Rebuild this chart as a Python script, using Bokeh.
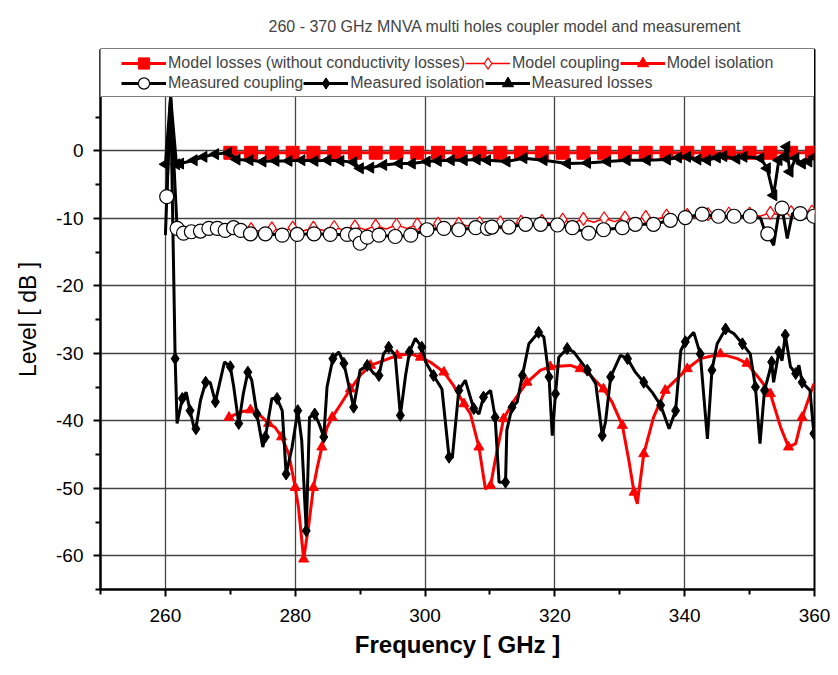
import math
from bokeh.plotting import figure
from bokeh.models import Range1d, Legend, LegendItem, FixedTicker, CustomJSTickFormatter
from bokeh.embed import file_html
from bokeh.resources import INLINE

# ---------------- data ----------------
model_freq = [270.0, 271.6, 273.2, 274.8, 276.4, 278.0, 279.6, 281.2, 282.8, 284.4,
              286.0, 287.6, 289.2, 290.8, 292.4, 294.0, 295.6, 297.2, 298.8, 300.4,
              302.0, 303.6, 305.2, 306.8, 308.4, 310.0, 311.6, 313.2, 314.8, 316.4,
              318.0, 319.6, 321.2, 322.8, 324.4, 326.0, 327.6, 329.2, 330.8, 332.4,
              334.0, 335.6, 337.2, 338.8, 340.4, 342.0, 343.6, 345.2, 346.8, 348.4,
              350.0, 351.6, 353.2, 354.8, 356.4, 358.0, 359.6]
model_losses = [-0.3, -0.3, -0.3, -0.3, -0.3, -0.3, -0.3, -0.3, -0.3, -0.3,
                -0.3, -0.3, -0.3, -0.3, -0.3, -0.3, -0.3, -0.3, -0.3, -0.3,
                -0.3, -0.3, -0.3, -0.3, -0.3, -0.3, -0.3, -0.3, -0.3, -0.3,
                -0.3, -0.3, -0.3, -0.3, -0.3, -0.3, -0.3, -0.3, -0.3, -0.3,
                -0.3, -0.3, -0.3, -0.3, -0.3, -0.3, -0.3, -0.3, -0.3, -0.3,
                -0.3, -0.3, -0.3, -0.3, -0.3, -0.3, -0.3]
model_coupling = [-11.6, -12.0, -11.6, -12.0, -11.5, -11.9, -11.4, -11.9, -11.4, -11.8,
                  -11.3, -11.8, -11.2, -11.7, -11.1, -11.6, -11.0, -11.5, -10.9, -11.4,
                  -10.8, -11.3, -10.8, -11.2, -10.7, -11.1, -10.6, -11.0, -10.5, -10.9,
                  -10.4, -10.8, -10.2, -10.7, -10.1, -10.6, -10.0, -10.5, -9.9, -10.3,
                  -9.8, -10.2, -9.6, -10.1, -9.5, -10.0, -9.4, -9.9, -9.3, -9.8,
                  -9.3, -9.7, -9.2, -9.6, -9.1, -9.5, -9.0]

model_iso_freq = [269.8, 271.6, 273.1, 274.6, 275.9, 276.9, 277.9, 279.0, 280.0, 280.5,
                  281.3, 282.1, 282.8, 283.4, 284.1, 284.9, 285.7, 286.9, 288.5, 290.0,
                  291.6, 293.6, 295.7, 297.8, 299.3, 300.8, 302.9, 304.4, 306.0, 307.0,
                  308.3, 309.3, 310.1, 310.8, 312.1, 313.7, 315.7, 317.8, 319.3, 322.4,
                  323.9, 325.5, 327.5, 328.8, 330.4, 331.4, 332.2, 332.7, 333.7, 335.2,
                  337.0, 338.8, 340.4, 342.4, 345.5, 348.1, 349.6, 351.7, 353.2, 354.8,
                  356.0, 357.1, 358.1, 359.9]
model_iso = [-39.5, -38.7, -38.4, -39.2, -40.4, -41.0, -42.4, -44.9, -49.9, -52.8,
             -60.5, -55.3, -49.9, -46.9, -43.9, -41.0, -39.5, -37.7, -35.3, -33.3,
             -31.8, -31.1, -30.3, -30.1, -30.6, -31.3, -32.8, -34.8, -37.5, -39.0,
             -43.9, -50.1, -49.6, -45.9, -39.7, -37.0, -34.3, -32.5, -32.0, -31.8,
             -32.3, -33.3, -35.3, -37.2, -40.7, -45.9, -50.6, -52.3, -44.9, -39.5,
             -35.5, -33.8, -32.3, -30.8, -30.1, -30.8, -31.5, -34.0, -36.0, -41.0,
             -43.9, -43.4, -39.5, -34.5]

meas_coup_freq = [260.2, 260.8, 261.8, 262.8, 264.0, 265.4, 266.7, 268.0, 269.2, 270.5,
                  271.6, 273.1, 275.4, 278.0, 280.3, 282.9, 285.4, 288.0, 289.3, 290.0,
                  291.1, 292.9, 295.4, 297.8, 300.3, 302.9, 305.2, 307.8, 309.6, 310.3,
                  312.9, 315.5, 317.8, 320.4, 322.7, 325.2, 327.5, 330.4, 332.4, 335.2,
                  337.8, 340.1, 342.7, 345.2, 347.6, 350.1, 351.7, 352.2, 352.8, 353.7,
                  354.4, 355.0, 355.8, 356.6, 357.8, 359.9]
meas_coupling = [-6.8, 8.0, -11.5, -12.2, -12.0, -11.9, -11.5, -11.5, -11.8, -11.4,
                 -11.8, -12.3, -12.3, -12.5, -12.4, -12.3, -12.4, -12.4, -12.5, -13.7,
                 -12.8, -12.5, -12.7, -12.5, -11.7, -11.5, -11.7, -11.4, -11.5, -11.3,
                 -11.3, -10.9, -10.9, -11.0, -11.4, -12.2, -11.7, -11.4, -10.9, -10.9,
                 -10.3, -9.9, -9.4, -9.7, -9.7, -9.7, -10.0, -11.5, -12.3, -14.0,
                 -9.8, -8.5, -13.0, -9.3, -9.3, -9.7]

meas_iso_freq = [260.0, 260.8, 261.5, 261.8, 262.6, 263.2, 263.8, 264.4, 264.7, 265.4,
                 266.2, 266.9, 267.7, 269.1, 270.0, 270.5, 271.3, 272.0, 272.7, 273.3,
                 274.1, 275.0, 275.4, 276.4, 277.2, 278.0, 278.6, 279.5, 280.4, 281.0,
                 281.7, 282.2, 283.0, 283.7, 284.4, 284.9, 285.8, 286.7, 287.5, 288.3,
                 289.0, 290.0, 291.1, 292.1, 292.9, 293.6, 294.4, 295.4, 296.2, 297.0,
                 297.6, 298.5, 299.5, 300.1, 301.3, 302.6, 303.7, 304.2, 305.2, 306.2,
                 307.5, 308.3, 309.0, 310.1, 310.8, 311.4, 312.4, 312.6, 313.4, 314.2,
                 315.0, 316.0, 317.5, 318.3, 319.1, 319.6, 320.1, 320.6, 321.9, 322.9,
                 325.0, 326.3, 327.3, 327.8, 328.6, 330.1, 331.2, 332.4, 333.7, 335.0,
                 336.3, 337.6, 338.6, 339.4, 340.1, 341.4, 342.4, 343.5, 344.2, 345.0,
                 346.3, 347.6, 348.9, 350.1, 350.9, 351.6, 352.3, 353.0, 353.4, 353.7,
                 354.5, 355.0, 355.5, 356.3, 357.1, 357.6, 358.1, 359.3, 359.9]
meas_iso = [-12.5, 8.0, -30.8, -40.4, -36.7, -35.8, -38.5, -41.0, -41.2, -37.0,
            -34.3, -34.3, -37.2, -31.3, -32.0, -34.8, -40.4, -36.0, -32.8, -34.0,
            -39.0, -43.9, -42.4, -36.7, -36.7, -38.5, -47.9, -44.0, -38.5, -42.9,
            -56.3, -39.5, -39.0, -40.5, -42.4, -35.0, -30.8, -29.8, -31.5, -35.0,
            -38.0, -32.5, -31.8, -33.0, -33.3, -30.1, -29.1, -30.3, -39.2, -33.3,
            -29.8, -27.8, -29.1, -31.3, -33.3, -35.3, -45.4, -45.5, -35.5, -34.0,
            -38.2, -39.0, -36.5, -35.5, -39.5, -49.1, -49.1, -41.4, -38.0, -37.2,
            -33.3, -28.6, -26.9, -27.6, -33.5, -42.2, -36.0, -30.6, -29.3, -29.8,
            -32.5, -34.5, -42.2, -40.2, -33.5, -30.3, -30.8, -32.8, -34.3, -35.8,
            -37.7, -41.2, -38.5, -29.6, -28.3, -26.9, -30.1, -42.7, -32.5, -28.6,
            -26.4, -27.1, -28.6, -30.1, -35.0, -43.4, -35.5, -33.0, -31.3, -34.3,
            -29.8, -31.1, -27.3, -32.0, -33.0, -31.8, -34.3, -35.5, -41.9]

meas_loss_freq = [260.0, 260.8, 261.7, 262.3, 264.4, 265.9, 267.7, 269.7, 271.0, 273.0,
                  275.0, 277.0, 279.0, 281.0, 283.0, 285.0, 287.0, 289.0, 290.0, 291.6,
                  293.6, 296.0, 298.0, 300.3, 302.0, 304.0, 306.0, 308.0, 309.6, 312.6,
                  315.2, 318.3, 321.9, 325.0, 328.1, 331.1, 334.2, 337.3, 339.0, 340.4,
                  342.0, 343.5, 345.0, 346.0, 348.0, 349.1, 351.7, 352.7, 353.7, 354.5,
                  355.3, 355.7, 356.2, 357.1, 358.1, 359.1, 360.0]
meas_losses = [-2.0, 8.0, -2.0, -1.9, -1.4, -0.9, -0.5, -0.3, -1.3, -1.4,
               -1.6, -1.5, -1.5, -1.4, -1.5, -1.4, -1.5, -1.7, -2.6, -2.5,
               -2.1, -1.9, -1.9, -1.6, -1.5, -1.4, -1.4, -1.3, -1.4, -1.6,
               -1.1, -1.4, -1.9, -1.8, -1.6, -1.4, -1.4, -1.3, -1.0, -0.9,
               -1.3, -1.4, -1.0, -0.8, -1.2, -0.9, -1.1, -2.6, -6.6, -1.4,
               -0.9, 0.6, -3.1, -1.1, -1.9, -1.6, -0.9]

x_major = [260, 280, 300, 320, 340, 360]
x_minor = [250, 270, 290, 310, 330, 350]
y_major = [-60, -50, -40, -30, -20, -10, 0]
y_minor = [-65, -55, -45, -35, -25, -15, -5, 5]

FONT = "Liberation Sans"

p = figure(frame_width=714, frame_height=540,
           min_border_left=100, min_border_top=49, min_border_right=24, min_border_bottom=78,
           x_range=Range1d(250, 360), y_range=Range1d(-65, 15),
           output_backend="svg", toolbar_location=None,
           title="260 - 370 GHz MNVA multi holes coupler model and measurement")

p.title.text_font = FONT
p.title.text_font_size = "16px"
p.title.text_font_style = "normal"
p.title.align = "left"
p.title.offset = 168
p.title.standoff = 30

p.outline_line_color = "black"
p.outline_line_width = 2
p.background_fill_color = "white"
p.border_fill_color = "white"

fmt = CustomJSTickFormatter(code="return tick.toString();")
for ax in (p.xaxis[0], p.yaxis[0]):
    ax.axis_line_width = 2
    ax.major_tick_line_width = 2
    ax.minor_tick_line_width = 2
    ax.major_tick_out = 7
    ax.major_tick_in = 0
    ax.minor_tick_out = 5
    ax.minor_tick_in = 0
    ax.major_label_text_font = FONT
    ax.major_label_text_font_size = "19px"
    ax.major_label_text_color = "black"
    ax.axis_label_text_font = FONT
    ax.axis_label_text_color = "black"
    ax.formatter = fmt

p.xaxis[0].ticker = FixedTicker(ticks=x_major, minor_ticks=x_minor)
p.yaxis[0].ticker = FixedTicker(ticks=y_major, minor_ticks=y_minor)
p.xaxis[0].major_label_standoff = 12
p.yaxis[0].major_label_standoff = 10
p.xaxis[0].axis_label = "Frequency [ GHz ]"
p.xaxis[0].axis_label_text_font_size = "24px"
p.xaxis[0].axis_label_text_font_style = "bold"
p.xaxis[0].axis_label_standoff = 6
p.yaxis[0].axis_label = "Level [ dB ]"
p.yaxis[0].axis_label_text_font_size = "23px"
p.yaxis[0].axis_label_text_font_style = "normal"
p.yaxis[0].axis_label_standoff = 12

p.xgrid.ticker = FixedTicker(ticks=x_major)
p.ygrid.ticker = FixedTicker(ticks=y_major + [10])
for g in (p.xgrid[0], p.ygrid[0]):
    g.grid_line_color = "#444444"
    g.grid_line_width = 1.3

RED = "#ff0000"

# model curves
l_ml = p.line(model_freq, model_losses, line_color=RED, line_width=3)
s_ml = p.scatter(model_freq[::2], model_losses[::2], marker="square", size=13,
                 fill_color=RED, line_color=RED)
l_mc = p.line(model_freq, model_coupling, line_color=RED, line_width=1.5)
s_mc = p.scatter(model_freq[::2], model_coupling[::2], marker="diamond", size=13,
                 fill_color="white", line_color=RED, line_width=1.2)
l_mi = p.line(model_iso_freq, model_iso, line_color=RED, line_width=3)
s_mi = p.scatter(model_iso_freq[::2], model_iso[::2], marker="triangle", size=10,
                 fill_color=RED, line_color=RED)

# measured curves
l_lo = p.line(meas_loss_freq, meas_losses, line_color="black", line_width=3)
lo_f = [f for f, v in zip(meas_loss_freq, meas_losses) if v < 5]
lo_v = [v for v in meas_losses if v < 5]
s_lo = p.scatter(lo_f, lo_v, marker="triangle", angle=math.pi / 2, size=11,
                 fill_color="black", line_color="black")

l_mi2 = p.line(meas_iso_freq, meas_iso, line_color="black", line_width=3)
s_mi2 = p.scatter(meas_iso_freq[2::2], meas_iso[2::2], marker="diamond", size=12,
                  fill_color="black", line_color="black")

l_co = p.line(meas_coup_freq, meas_coupling, line_color="black", line_width=3)
skip = (1, 46, 47, 49, 50, 52, 53)
co_f = [f for i, f in enumerate(meas_coup_freq) if i not in skip]
co_v = [v for i, v in enumerate(meas_coupling) if i not in skip]
s_co = p.scatter(co_f, co_v, marker="circle", size=14,
                 fill_color="white", line_color="black", line_width=1.2)

# legend frame (invisible glyph, sized box)
dummy = p.line([], [], line_alpha=0)
box = Legend(items=[LegendItem(label=" ", renderers=[dummy])],
             location=(0, 492), padding=0, margin=0, spacing=0,
             glyph_width=714, glyph_height=47, label_width=0, label_height=47,
             label_standoff=0, label_text_font_size="1px",
             border_line_color="black", border_line_width=1.2,
             background_fill_color="white", background_fill_alpha=1.0)
p.add_layout(box, "center")

common = dict(orientation="horizontal", padding=0, margin=0, spacing=0,
              glyph_width=45, glyph_height=28, label_height=28, label_standoff=2,
              label_text_font=FONT, label_text_font_size="16px",
              border_line_alpha=0, background_fill_alpha=0)
row1 = Legend(items=[
    LegendItem(label="Model losses (without conductivity losses)", renderers=[l_ml, s_ml]),
    LegendItem(label="Model coupling", renderers=[l_mc, s_mc]),
    LegendItem(label="Model isolation", renderers=[l_mi, s_mi]),
], location=(21, 512), **common)
row2 = Legend(items=[
    LegendItem(label="Measured coupling", renderers=[l_co, s_co]),
    LegendItem(label="Measured isolation", renderers=[l_mi2, s_mi2]),
    LegendItem(label="Measured losses", renderers=[l_lo, s_lo]),
], location=(21, 492), **common)
p.add_layout(row1, "center")
p.add_layout(row2, "center")

open("out.html", "w").write(file_html(p, INLINE))
